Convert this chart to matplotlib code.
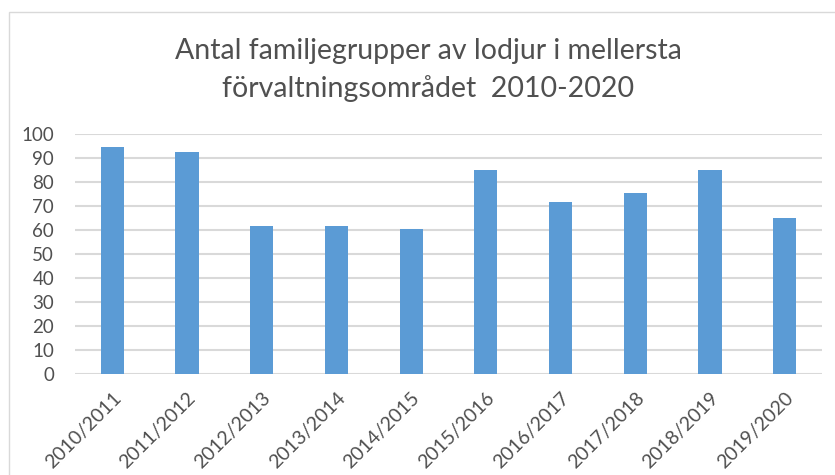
import matplotlib
matplotlib.use("Agg")
import matplotlib.pyplot as plt
from matplotlib.patches import Rectangle

categories = ["2010/2011", "2011/2012", "2012/2013", "2013/2014", "2014/2015",
              "2015/2016", "2016/2017", "2017/2018", "2018/2019", "2019/2020"]
values = [94.5, 92.5, 61.5, 61.5, 60.5, 85, 71.5, 75.5, 85, 65]
yticks = [0, 10, 20, 30, 40, 50, 60, 70, 80, 90, 100]
title = "Antal familjegrupper av lodjur i mellersta\nförvaltningsområdet  2010-2020"

plt.rcParams['font.family'] = ['Lato', 'DejaVu Sans']

fig = plt.figure(figsize=(8.35, 4.75), dpi=100)
fig.patch.set_facecolor('white')
W, H = 835, 475
ax = fig.add_axes([75 / W, (H - 374) / H, (822 - 75) / W, (374 - 134) / H])

x = list(range(len(categories)))
ax.bar(x, values, width=0.31, color='#5B9BD5', zorder=3)
ax.set_xlim(-0.5, len(categories) - 0.5)
ax.set_ylim(0, 100)
ax.set_yticks(yticks)
ax.set_yticklabels([str(t) for t in yticks], fontsize=13.5, color='#505050')
ax.set_xticks(x)
ax.set_xticklabels(categories, rotation=45, ha='right', va='top',
                   rotation_mode='anchor', fontsize=14, color='#505050')
ax.tick_params(axis='both', length=0)
ax.tick_params(axis='y', pad=15)
ax.tick_params(axis='x', pad=11)
ax.grid(axis='y', color='#D9D9D9', linewidth=1.5, zorder=0)
for s in ax.spines.values():
    s.set_visible(False)

fig.text(428 / W, 1 - 70 / H, title, ha='center', va='center', fontsize=20.5,
         color='#505050', linespacing=1.5)

fig.patches.append(Rectangle((9 / W, -0.1), 1.2, 1 - 12 / H + 0.1,
                             transform=fig.transFigure, fill=False,
                             edgecolor='#D9D9D9', linewidth=1))

fig.savefig("out.png", dpi=100, facecolor='white')
